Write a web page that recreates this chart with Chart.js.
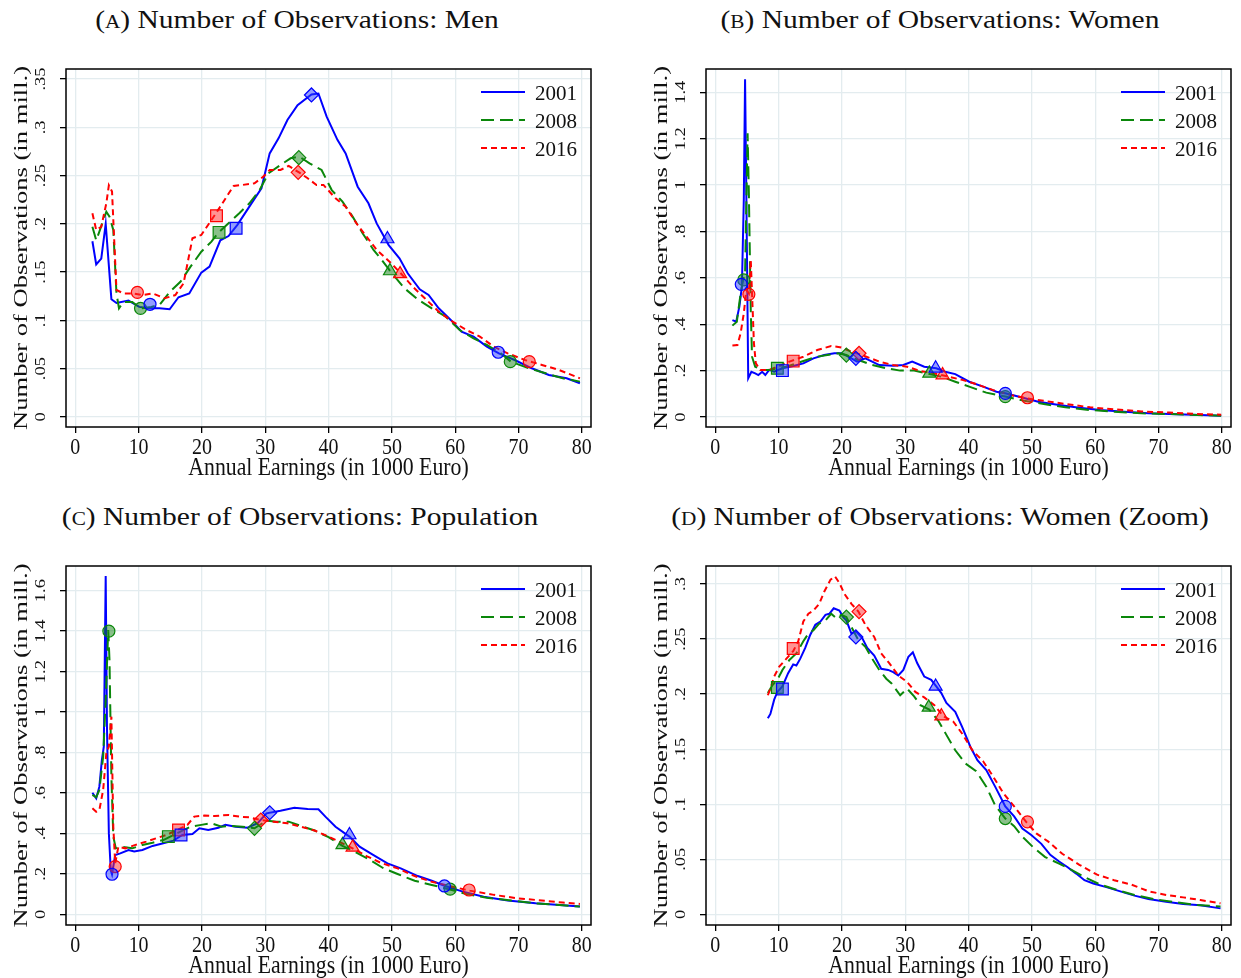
<!DOCTYPE html>
<html>
<head>
<meta charset="utf-8">
<script src="https://cdn.jsdelivr.net/npm/chart.js@4.4.1/dist/chart.umd.min.js"></script>
<style>
body { margin: 0; background: #fff; width: 1241px; height: 978px; position: relative; overflow: hidden; }
canvas { position: absolute; }
.ttl { position: absolute; font-family: "Liberation Serif", serif; font-size: 25px; color: #111; white-space: nowrap;
       transform: translate(-50%, -50%) scaleX(1.18); }
.sc { font-variant: small-caps; }
</style>
</head>
<body>
<div class="ttl" style="left:297px;top:20px">(<span class="sc">a</span>) Number of Observations: Men</div>
<div class="ttl" style="left:940px;top:20px">(<span class="sc">b</span>) Number of Observations: Women</div>
<div class="ttl" style="left:300px;top:517px">(<span class="sc">c</span>) Number of Observations: Population</div>
<div class="ttl" style="left:940px;top:517px">(<span class="sc">d</span>) Number of Observations: Women (Zoom)</div>
<canvas id="cA" width="620" height="489" style="left:0;top:0"></canvas>
<canvas id="cB" width="621" height="489" style="left:620px;top:0"></canvas>
<canvas id="cC" width="620" height="489" style="left:0;top:489px"></canvas>
<canvas id="cD" width="621" height="489" style="left:620px;top:489px"></canvas>
<script>
const years = ['2001', '2008', '2016'];
const xTicks = [0, 10, 20, 30, 40, 50, 60, 70, 80];
const xTitle = 'Annual Earnings (in 1000 Euro)';
const yTitle = 'Number of Observations (in mill.)';

const yTicksA = [0, 0.05, 0.1, 0.15, 0.2, 0.25, 0.3, 0.35];
const yLabelsA = ['0', '.05', '.1', '.15', '.2', '.25', '.3', '.35'];
const yTicksB = [0, 0.2, 0.4, 0.6, 0.8, 1, 1.2, 1.4];
const yLabelsB = ['0', '.2', '.4', '.6', '.8', '1', '1.2', '1.4'];
const yTicksC = [0, 0.2, 0.4, 0.6, 0.8, 1, 1.2, 1.4, 1.6];
const yLabelsC = ['0', '.2', '.4', '.6', '.8', '1', '1.2', '1.4', '1.6'];
const yTicksD = [0, 0.05, 0.1, 0.15, 0.2, 0.25, 0.3];
const yLabelsD = ['0', '.05', '.1', '.15', '.2', '.25', '.3'];

// (A) men
const menA2001 = [[2.7,0.182],[3.3,0.158],[4.1,0.164],[4.8,0.200],[5.7,0.122],[6.5,0.118],[8.4,0.1205],[10.1,0.114],[11.7,0.1125],[13.3,0.1125],[14.9,0.1115],[16.3,0.124],[18.0,0.128],[19.9,0.1495],[21.2,0.1557],[22.9,0.183],[24.2,0.1874],[25.6,0.199],[27.8,0.221],[29.4,0.2368],[30.7,0.273],[32.1,0.2886],[33.5,0.3076],[35.1,0.323],[37.3,0.334],[38.4,0.335],[39.7,0.311],[41.4,0.287],[42.7,0.273],[44.6,0.2385],[46.3,0.2213],[47.6,0.2005],[49.5,0.178],[51.2,0.1643],[52.5,0.1488],[54.4,0.1322],[55.8,0.1263],[57.4,0.1125],[59.3,0.1005],[61.0,0.0884],[62.9,0.0832],[65.0,0.0728],[66.9,0.0659],[69.4,0.059],[72.1,0.0504],[74.8,0.0435],[77.6,0.040],[79.7,0.0349]];
const menA2008 = [[2.7,0.197],[3.3,0.183],[3.8,0.192],[4.9,0.2126],[5.4,0.2075],[6.0,0.1937],[6.5,0.128],[6.9,0.1125],[7.6,0.119],[9.0,0.119],[10.3,0.1125],[12.0,0.114],[13.3,0.116],[15.0,0.13],[16.6,0.140],[18.2,0.1557],[19.9,0.1712],[21.5,0.1816],[22.6,0.1909],[24.2,0.2006],[25.9,0.211],[27.5,0.2213],[29.1,0.235],[30.5,0.2523],[32.4,0.261],[34.0,0.2679],[35.4,0.2696],[37.0,0.2627],[38.9,0.2558],[40.5,0.235],[42.2,0.223],[43.8,0.2075],[45.4,0.190],[47.1,0.173],[48.4,0.1626],[49.8,0.1505],[52.0,0.1332],[54.2,0.1212],[56.3,0.1125],[58.5,0.1039],[60.7,0.090],[62.9,0.0815],[65.0,0.0746],[67.2,0.0659],[68.8,0.0573],[71.6,0.0504],[74.3,0.0452],[77.0,0.040],[79.7,0.0366]];
const menA2016 = [[2.7,0.2109],[3.3,0.1937],[4.1,0.197],[4.9,0.2213],[5.3,0.240],[5.8,0.2334],[6.5,0.1315],[7.6,0.128],[9.0,0.128],[10.6,0.1263],[12.2,0.128],[14.1,0.1229],[15.8,0.1263],[17.1,0.1384],[18.5,0.185],[19.9,0.1885],[21.5,0.204],[22.9,0.2178],[23.9,0.2282],[25.0,0.2392],[26.4,0.2403],[28.3,0.242],[29.7,0.2489],[30.7,0.2558],[32.4,0.2558],[33.7,0.26],[35.4,0.253],[36.7,0.2472],[38.1,0.2403],[39.2,0.2403],[41.1,0.2264],[42.7,0.2178],[44.4,0.2006],[46.0,0.1868],[47.6,0.173],[49.8,0.1598],[51.4,0.1488],[53.3,0.135],[55.2,0.1229],[57.4,0.1091],[59.6,0.0987],[61.8,0.090],[63.9,0.0832],[66.1,0.0728],[68.3,0.0659],[71.0,0.059],[73.7,0.0539],[76.4,0.0487],[79.7,0.040]];
const mkA2001 = [[11.8,0.1167],[25.4,0.1954],[37.3,0.3335],[49.3,0.1843],[66.8,0.067]];
const mkA2008 = [[10.3,0.1125],[22.7,0.1912],[35.3,0.2686],[49.7,0.1512],[68.7,0.0573]];
const mkA2016 = [[9.8,0.1291],[22.3,0.2085],[35.2,0.2534],[51.3,0.1481],[71.7,0.0573]];

// (B) women
const womB2001 = [[2.7,0.418],[3.3,0.411],[3.8,0.476],[4.2,0.562],[4.5,0.936],[4.7,1.456],[4.9,0.964],[5.2,0.167],[5.7,0.195],[6.3,0.188],[6.8,0.181],[7.4,0.195],[7.9,0.181],[8.5,0.203],[9.3,0.195],[10.6,0.21],[12.3,0.22],[13.9,0.231],[15.5,0.253],[17.2,0.267],[18.8,0.275],[19.9,0.275],[21.0,0.26],[22.4,0.239],[23.7,0.253],[25.9,0.224],[28.1,0.221],[29.7,0.224],[31.1,0.239],[33.0,0.217],[34.9,0.21],[36.3,0.195],[37.9,0.185],[40.1,0.152],[42.3,0.131],[44.4,0.109],[45.8,0.102],[48.3,0.085],[51.0,0.066],[54.3,0.052],[57.5,0.040],[60.8,0.030],[64.6,0.023],[68.4,0.016],[72.8,0.0115],[76.6,0.0086],[79.9,0.0058]];
const womB2008 = [[2.7,0.394],[3.4,0.411],[4.0,0.533],[4.4,0.591],[4.7,0.62],[5.1,1.223],[5.3,0.964],[5.6,0.461],[5.8,0.26],[6.3,0.217],[7.4,0.203],[8.5,0.203],[9.8,0.21],[11.2,0.217],[12.8,0.231],[14.4,0.246],[16.1,0.26],[17.7,0.267],[19.4,0.275],[20.7,0.267],[22.6,0.246],[24.8,0.224],[27.0,0.21],[29.2,0.2],[31.4,0.2],[33.5,0.188],[35.7,0.174],[37.9,0.152],[40.1,0.131],[42.8,0.105],[45.8,0.088],[48.8,0.070],[52.1,0.055],[55.3,0.042],[59.2,0.030],[63.0,0.023],[67.3,0.016],[71.7,0.013],[76.1,0.0086],[79.9,0.0058]];
const womB2016 = [[2.7,0.308],[3.5,0.31],[4.0,0.361],[4.5,0.447],[4.9,0.548],[5.3,0.533],[5.6,0.677],[5.8,0.533],[6.1,0.318],[6.4,0.231],[7.1,0.203],[8.5,0.203],[10.1,0.22],[11.7,0.239],[13.9,0.26],[16.1,0.289],[18.3,0.306],[19.9,0.3],[21.5,0.282],[23.2,0.267],[25.9,0.239],[28.1,0.224],[30.3,0.217],[32.4,0.198],[34.6,0.188],[36.8,0.174],[39.0,0.16],[41.2,0.142],[43.9,0.116],[46.6,0.095],[49.3,0.08],[52.1,0.069],[55.3,0.056],[59.2,0.042],[63.0,0.033],[67.3,0.024],[71.7,0.019],[76.1,0.013],[79.9,0.010]];
const mkB2001 = [[4.1,0.572],[10.6,0.2],[22.2,0.253],[34.8,0.21],[45.8,0.102]];
const mkB2008 = [[4.5,0.591],[9.8,0.21],[20.7,0.267],[33.8,0.188],[45.8,0.088]];
const mkB2016 = [[5.3,0.529],[12.3,0.241],[22.7,0.275],[35.9,0.181],[49.3,0.083]];

// (C) population
const popC2001 = [[2.7,0.601],[3.3,0.573],[3.8,0.631],[4.2,0.763],[4.5,0.829],[4.8,1.672],[5.0,0.927],[5.3,0.4],[5.6,0.219],[5.8,0.198],[6.3,0.293],[7.1,0.301],[8.4,0.318],[9.3,0.31],[10.6,0.318],[12.2,0.338],[13.9,0.351],[15.5,0.364],[16.9,0.392],[18.5,0.397],[19.6,0.425],[21.0,0.417],[22.6,0.428],[23.7,0.442],[25.3,0.433],[27.2,0.428],[28.8,0.45],[30.2,0.499],[32.4,0.512],[34.6,0.527],[36.7,0.521],[38.4,0.519],[39.5,0.483],[41.1,0.433],[43.3,0.384],[44.9,0.334],[47.1,0.293],[49.3,0.252],[51.4,0.227],[54.1,0.189],[56.3,0.166],[58.4,0.14],[61.2,0.112],[64.5,0.087],[68.3,0.068],[72.7,0.054],[76.5,0.046],[79.7,0.038]];
const popC2008 = [[2.7,0.59],[3.3,0.578],[3.8,0.615],[4.4,0.779],[4.8,1.059],[5.2,1.405],[5.4,1.257],[5.7,0.68],[6.0,0.384],[6.4,0.326],[7.3,0.334],[9.0,0.326],[10.6,0.343],[12.2,0.354],[13.9,0.367],[15.0,0.384],[16.6,0.409],[18.2,0.433],[19.9,0.442],[21.5,0.45],[23.1,0.433],[24.8,0.437],[26.4,0.433],[28.3,0.425],[30.2,0.463],[31.8,0.458],[33.7,0.458],[35.6,0.437],[37.8,0.414],[40.0,0.381],[42.2,0.338],[44.4,0.305],[46.5,0.269],[48.7,0.227],[50.9,0.199],[53.6,0.166],[56.3,0.145],[59.0,0.124],[61.8,0.1],[65.0,0.082],[68.8,0.068],[72.7,0.054],[76.5,0.046],[79.7,0.038]];
const popC2016 = [[2.7,0.524],[3.3,0.507],[3.8,0.516],[4.4,0.615],[4.9,0.796],[5.3,0.829],[5.7,0.977],[6.0,0.433],[6.3,0.252],[6.8,0.334],[7.9,0.326],[9.5,0.343],[11.2,0.359],[12.8,0.376],[14.4,0.392],[16.3,0.42],[17.7,0.442],[18.8,0.483],[20.4,0.488],[22.0,0.486],[24.2,0.491],[25.9,0.483],[27.5,0.479],[29.4,0.466],[31.3,0.458],[33.5,0.45],[35.6,0.433],[37.8,0.414],[40.0,0.384],[42.2,0.351],[43.8,0.326],[46.0,0.288],[48.2,0.255],[50.9,0.227],[53.6,0.189],[56.3,0.161],[59.0,0.14],[62.3,0.117],[66.1,0.096],[69.9,0.079],[73.7,0.068],[77.0,0.058],[79.7,0.051]];
const mkC2001 = [[5.8,0.198],[16.7,0.392],[30.7,0.502],[43.3,0.392],[58.3,0.14]];
const mkC2008 = [[5.3,1.4],[14.7,0.384],[28.3,0.425],[42.2,0.343],[59.2,0.124]];
const mkC2016 = [[6.3,0.236],[16.3,0.417],[29.3,0.466],[43.8,0.331],[62.2,0.12]];

// (D) women, zoomed
const womD2001 = [[8.3,0.178],[8.7,0.182],[9.3,0.195],[9.8,0.202],[10.6,0.207],[11.5,0.219],[12.3,0.227],[12.8,0.226],[13.4,0.232],[14.2,0.242],[15.0,0.254],[15.8,0.263],[16.6,0.266],[17.4,0.272],[18.0,0.273],[18.7,0.278],[19.6,0.276],[20.2,0.27],[20.7,0.267],[21.5,0.255],[22.2,0.257],[23.2,0.251],[24.0,0.242],[25.1,0.235],[26.2,0.223],[27.3,0.222],[28.1,0.22],[28.9,0.217],[29.7,0.222],[30.5,0.234],[31.2,0.238],[31.9,0.228],[33.0,0.216],[34.1,0.213],[34.9,0.207],[35.7,0.201],[36.5,0.192],[37.9,0.184],[39.0,0.17],[40.3,0.152],[41.4,0.14],[42.8,0.131],[44.2,0.116],[45.8,0.098],[47.2,0.089],[48.5,0.078],[49.9,0.072],[51.5,0.064],[52.9,0.054],[54.3,0.048],[55.6,0.043],[57.0,0.037],[58.3,0.031],[59.7,0.028],[61.9,0.0245],[64.1,0.0206],[66.2,0.017],[68.4,0.014],[71.2,0.0115],[73.9,0.0094],[76.6,0.0082],[79.8,0.0054]];
const womD2008 = [[8.3,0.201],[9.0,0.208],[9.8,0.213],[10.6,0.222],[11.7,0.231],[12.8,0.237],[13.9,0.248],[14.7,0.255],[15.5,0.258],[16.4,0.264],[17.4,0.267],[18.3,0.273],[19.1,0.269],[19.9,0.272],[20.7,0.27],[21.5,0.261],[22.6,0.249],[23.7,0.243],[24.8,0.232],[25.9,0.222],[27.0,0.214],[27.8,0.21],[29.2,0.199],[30.3,0.205],[31.4,0.198],[32.4,0.19],[33.8,0.186],[35.2,0.176],[36.5,0.163],[37.9,0.149],[39.5,0.137],[41.2,0.13],[42.8,0.116],[44.2,0.099],[45.8,0.087],[47.2,0.08],[48.5,0.0705],[50.2,0.061],[52.1,0.052],[54.3,0.046],[56.4,0.04],[58.6,0.033],[60.8,0.027],[63.5,0.022],[66.2,0.0176],[69.5,0.0136],[72.8,0.011],[76.1,0.0085],[79.8,0.007]];
const womD2016 = [[8.3,0.199],[8.7,0.205],[9.3,0.216],[10.1,0.225],[11.2,0.232],[12.3,0.239],[13.1,0.248],[13.9,0.266],[14.7,0.273],[15.5,0.276],[16.4,0.282],[17.2,0.293],[18.2,0.304],[18.9,0.307],[19.6,0.301],[20.4,0.291],[21.5,0.282],[22.6,0.275],[23.7,0.263],[25.1,0.252],[26.2,0.237],[27.5,0.228],[28.9,0.217],[30.3,0.211],[31.6,0.202],[33.0,0.197],[34.6,0.19],[36.0,0.18],[37.6,0.175],[39.0,0.164],[40.6,0.149],[42.3,0.139],[43.9,0.125],[45.5,0.11],[47.2,0.098],[49.1,0.084],[50.7,0.0735],[52.6,0.066],[54.8,0.055],[57.5,0.045],[60.3,0.036],[63.0,0.031],[65.7,0.027],[68.4,0.021],[71.2,0.0176],[73.9,0.0154],[76.6,0.013],[79.8,0.01]];
const mkD2001 = [[10.6,0.2046],[22.2,0.252],[34.8,0.207],[45.8,0.098]];
const mkD2008 = [[9.8,0.206],[20.7,0.27],[33.7,0.188],[45.8,0.087]];
const mkD2016 = [[12.3,0.2415],[22.7,0.275],[35.7,0.18],[49.3,0.084]];

const shapesFull = ['circle', 'rect', 'rectRot', 'triangle', 'circle'];
const shapesZoom = ['rect', 'rectRot', 'triangle', 'circle'];

const lineColors = ['#0000ff', '#0a870a', '#ff0000'];
const fillColors = ['rgba(40,60,255,0.5)', 'rgba(20,130,20,0.5)', 'rgba(255,40,40,0.5)'];
const dashes = [[], [13, 6], [6, 4]];
const shapeSize = { circle: 6, rect: 8.3, rectRot: 7, triangle: 7.5 };

function txt(ctx, s, x, y, o) {
    ctx.save();
    ctx.translate(x, y);
    if (o.rot) ctx.rotate(o.rot);
    ctx.scale(o.sx || 1, o.sy || 1);
    ctx.font = o.size + 'px "Liberation Serif", "Times New Roman", serif';
    ctx.fillStyle = '#111';
    ctx.textAlign = o.align || 'center';
    ctx.textBaseline = 'alphabetic';
    ctx.fillText(s, 0, 0);
    ctx.restore();
}

const stataFrame = {
    id: 'stataFrame',
    afterDraw(chart, args, opts) {
        const ctx = chart.ctx;
        const a = chart.chartArea;
        const xs = chart.scales.x, ys = chart.scales.y;

        ctx.save();
        ctx.strokeStyle = '#000';
        ctx.lineWidth = 1.5;
        ctx.strokeRect(a.left, a.top, a.right - a.left, a.bottom - a.top);
        ctx.restore();

        xTicks.forEach((v) => txt(ctx, String(v), xs.getPixelForValue(v), a.bottom + 27, { size: 23.5, sx: 0.85 }));
        txt(ctx, xTitle, (a.left + a.right) / 2, a.bottom + 48, { size: 25, sx: 0.87 });

        opts.ticks.forEach((v, i) => txt(ctx, opts.labels[i], a.left - 21.5, ys.getPixelForValue(v), { size: 18.5, sy: 0.8, rot: -Math.PI / 2 }));
        txt(ctx, yTitle, a.left - 39.5, (a.top + a.bottom) / 2, { size: 26.6, sy: 0.73, rot: -Math.PI / 2 });

        // legend in the upper right corner of the plot
        years.forEach((yr, i) => {
            const y = a.top + 23 + 28 * i;
            ctx.save();
            ctx.strokeStyle = lineColors[i];
            ctx.lineWidth = 2;
            ctx.setLineDash(dashes[i]);
            ctx.beginPath();
            ctx.moveTo(a.right - 110, y);
            ctx.lineTo(a.right - 66, y);
            ctx.stroke();
            ctx.restore();
            txt(ctx, yr, a.right - 56, y + 7.5, { size: 21, align: 'left' });
        });
    }
};

function toPts(arr) {
    return arr.map((p) => ({ x: p[0], y: p[1] }));
}

function makePanel(id, lines, marks, shapes, yTicks, yLabels, yMin, yMax, box) {
    const datasets = [];
    marks.forEach((m, i) => {
        datasets.push({
            data: toPts(m),
            showLine: false,
            pointStyle: shapes,
            pointRadius: shapes.map((s) => shapeSize[s]),
            pointBackgroundColor: fillColors[i],
            pointBorderColor: lineColors[i],
            pointBorderWidth: 1.2,
            order: 0
        });
    });
    lines.forEach((l, i) => {
        datasets.push({
            data: toPts(l),
            borderColor: lineColors[i],
            borderWidth: 2,
            borderDash: dashes[i],
            pointRadius: 0,
            tension: 0,
            fill: false,
            order: 3 - i
        });
    });

    const gridStyle = { color: '#e3ecef', lineWidth: 1.3, tickColor: '#000', tickLength: 6, tickWidth: 1.3 };

    return new Chart(document.getElementById(id), {
        type: 'line',
        data: { datasets },
        options: {
            responsive: false,
            animation: false,
            events: [],
            layout: { padding: { top: box.top, right: box.right, left: 0, bottom: 0 } },
            plugins: {
                legend: { display: false },
                tooltip: { enabled: false },
                stataFrame: { ticks: yTicks, labels: yLabels }
            },
            scales: {
                x: {
                    type: 'linear',
                    min: -1.47,
                    max: 81.45,
                    afterBuildTicks: (s) => { s.ticks = xTicks.map((v) => ({ value: v })); },
                    afterFit: (s) => { s.height = box.bottom; },
                    ticks: { display: false },
                    grid: gridStyle,
                    border: { display: false }
                },
                y: {
                    min: yMin,
                    max: yMax,
                    afterBuildTicks: (s) => { s.ticks = yTicks.map((v) => ({ value: v })); },
                    afterFit: (s) => { s.width = box.left; },
                    ticks: { display: false },
                    grid: gridStyle,
                    border: { display: false }
                }
            }
        },
        plugins: [stataFrame]
    });
}

makePanel('cA', [menA2001, menA2008, menA2016], [mkA2001, mkA2008, mkA2016], shapesFull,
    yTicksA, yLabelsA, -0.0104, 0.3604, { left: 66, top: 69, right: 29, bottom: 62 });
makePanel('cB', [womB2001, womB2008, womB2016], [mkB2001, mkB2008, mkB2016], shapesFull,
    yTicksB, yLabelsB, -0.0431, 1.5005, { left: 86, top: 69, right: 10, bottom: 62 });
makePanel('cC', [popC2001, popC2008, popC2016], [mkC2001, mkC2008, mkC2016], shapesFull,
    yTicksC, yLabelsC, -0.053, 1.722, { left: 66, top: 77, right: 29, bottom: 53 });
makePanel('cD', [womD2001, womD2008, womD2016], [mkD2001, mkD2008, mkD2016], shapesZoom,
    yTicksD, yLabelsD, -0.0097, 0.3164, { left: 86, top: 77, right: 10, bottom: 53 });
</script>
</body>
</html>
